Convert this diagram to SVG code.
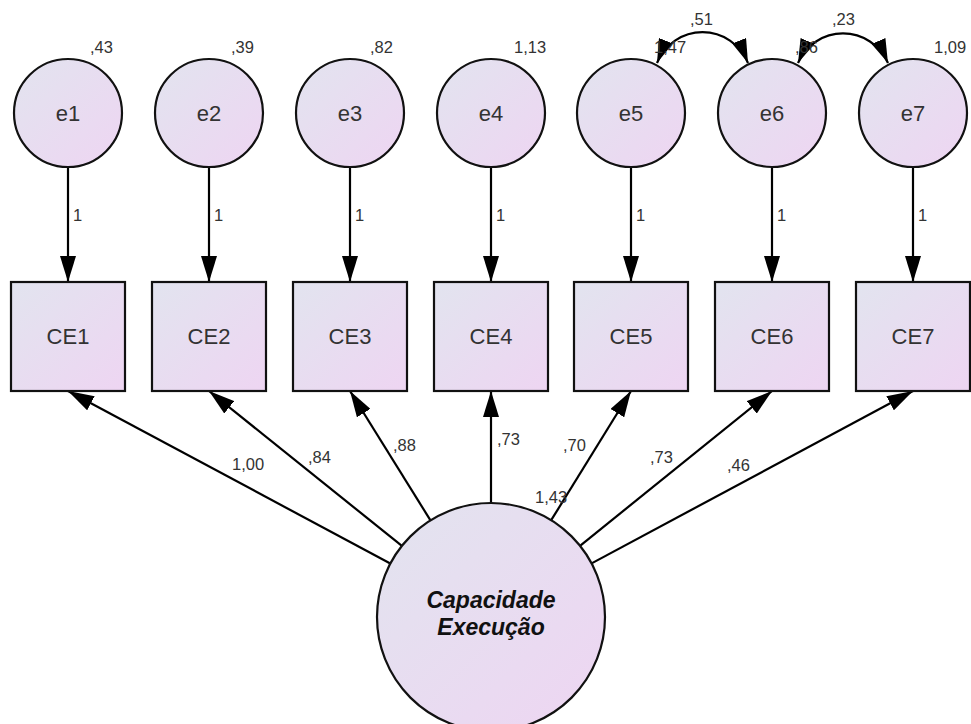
<svg xmlns="http://www.w3.org/2000/svg" width="971" height="724" viewBox="0 0 971 724">
<defs>
<linearGradient id="fill" x1="0" y1="0" x2="1" y2="1">
<stop offset="0" stop-color="#e2e4ef"/>
<stop offset="1" stop-color="#eed5f2"/>
</linearGradient>
<marker id="arr" markerUnits="userSpaceOnUse" viewBox="0 0 26 16" markerWidth="26" markerHeight="16" refX="26" refY="8" orient="auto-start-reverse">
<path d="M0,0 L26,8 L0,16 z" fill="#000"/>
</marker>
<marker id="arrs" markerUnits="userSpaceOnUse" viewBox="0 0 24 15" markerWidth="24" markerHeight="15" refX="24" refY="7.5" orient="auto-start-reverse">
<path d="M0,0 L24,7.5 L0,15 z" fill="#000"/>
</marker>
</defs>
<style>
.node{fill:url(#fill);stroke:#111;stroke-width:2.2}
.lbl{font-family:"Liberation Sans",Arial,sans-serif;font-size:22px;fill:#333;text-anchor:middle}
.num{font-family:"Liberation Sans",Arial,sans-serif;font-size:16.5px;fill:#333}
.lat{font-family:"Liberation Sans",Arial,sans-serif;font-size:23px;font-weight:bold;font-style:italic;fill:#111;text-anchor:middle}
.conn line,.conn path{stroke:#000;stroke-width:2.2;fill:none}
</style>
<rect width="971" height="724" fill="#fff"/>

<g id="connectors" class="conn">
<line x1="68" y1="168" x2="68" y2="282" marker-end="url(#arr)"/>
<line x1="209" y1="168" x2="209" y2="282" marker-end="url(#arr)"/>
<line x1="350" y1="168" x2="350" y2="282" marker-end="url(#arr)"/>
<line x1="491" y1="168" x2="491" y2="282" marker-end="url(#arr)"/>
<line x1="631" y1="168" x2="631" y2="282" marker-end="url(#arr)"/>
<line x1="772" y1="168" x2="772" y2="282" marker-end="url(#arr)"/>
<line x1="913" y1="168" x2="913" y2="282" marker-end="url(#arr)"/>
<line x1="390.3" y1="563.5" x2="68" y2="391" marker-end="url(#arr)"/>
<line x1="401.9" y1="545.9" x2="209" y2="391" marker-end="url(#arr)"/>
<line x1="430.5" y1="520.4" x2="350" y2="391" marker-end="url(#arr)"/>
<line x1="491" y1="503" x2="491" y2="391" marker-end="url(#arr)"/>
<line x1="551.2" y1="520.2" x2="631" y2="391" marker-end="url(#arr)"/>
<line x1="580" y1="545.8" x2="772" y2="391" marker-end="url(#arr)"/>
<line x1="591.6" y1="563.4" x2="913" y2="391" marker-end="url(#arr)"/>
<path d="M657,63 A49,49 0 0 1 748,63" marker-start="url(#arrs)" marker-end="url(#arrs)"/>
<path d="M798,63 A49,49 0 0 1 888,63" marker-start="url(#arrs)" marker-end="url(#arrs)"/>
</g>

<g id="labels-connectors">
<text class="num" x="73" y="221">1</text>
<text class="num" x="214" y="221">1</text>
<text class="num" x="355" y="221">1</text>
<text class="num" x="496" y="221">1</text>
<text class="num" x="636" y="221">1</text>
<text class="num" x="777" y="221">1</text>
<text class="num" x="918" y="221">1</text>
<text class="num" x="232" y="470">1,00</text>
<text class="num" x="308" y="463">,84</text>
<text class="num" x="393" y="451">,88</text>
<text class="num" x="497" y="445">,73</text>
<text class="num" x="563" y="451">,70</text>
<text class="num" x="650" y="463">,73</text>
<text class="num" x="727" y="471">,46</text>
<text class="num" x="535" y="503">1,43</text>
<text class="num" x="690" y="25">,51</text>
<text class="num" x="832" y="25">,23</text>
</g>

<g id="e1"><circle class="node" cx="68" cy="113" r="54"/><text class="lbl" x="68" y="121">e1</text><text class="num" x="90" y="53">,43</text></g>
<g id="e2"><circle class="node" cx="209" cy="113" r="54"/><text class="lbl" x="209" y="121">e2</text><text class="num" x="231" y="53">,39</text></g>
<g id="e3"><circle class="node" cx="350" cy="113" r="54"/><text class="lbl" x="350" y="121">e3</text><text class="num" x="370" y="53">,82</text></g>
<g id="e4"><circle class="node" cx="491" cy="113" r="54"/><text class="lbl" x="491" y="121">e4</text><text class="num" x="514" y="53">1,13</text></g>
<g id="e5"><circle class="node" cx="631" cy="113" r="54"/><text class="lbl" x="631" y="121">e5</text><text class="num" x="654" y="53">1,47</text></g>
<g id="e6"><circle class="node" cx="772" cy="113" r="54"/><text class="lbl" x="772" y="121">e6</text><text class="num" x="795" y="53">,86</text></g>
<g id="e7"><circle class="node" cx="913" cy="113" r="54"/><text class="lbl" x="913" y="121">e7</text><text class="num" x="934" y="53">1,09</text></g>

<g id="CE1"><rect class="node" x="11" y="282" width="114" height="109"/><text class="lbl" x="68" y="344">CE1</text></g>
<g id="CE2"><rect class="node" x="152" y="282" width="114" height="109"/><text class="lbl" x="209" y="344">CE2</text></g>
<g id="CE3"><rect class="node" x="293" y="282" width="114" height="109"/><text class="lbl" x="350" y="344">CE3</text></g>
<g id="CE4"><rect class="node" x="434" y="282" width="114" height="109"/><text class="lbl" x="491" y="344">CE4</text></g>
<g id="CE5"><rect class="node" x="574" y="282" width="114" height="109"/><text class="lbl" x="631" y="344">CE5</text></g>
<g id="CE6"><rect class="node" x="715" y="282" width="114" height="109"/><text class="lbl" x="772" y="344">CE6</text></g>
<g id="CE7"><rect class="node" x="856" y="282" width="114" height="109"/><text class="lbl" x="913" y="344">CE7</text></g>

<g id="CapacidadeExecucao"><circle class="node" cx="491" cy="617" r="114"/><text class="lat" x="491" y="608">Capacidade</text><text class="lat" x="491" y="635">Execução</text></g>
</svg>
